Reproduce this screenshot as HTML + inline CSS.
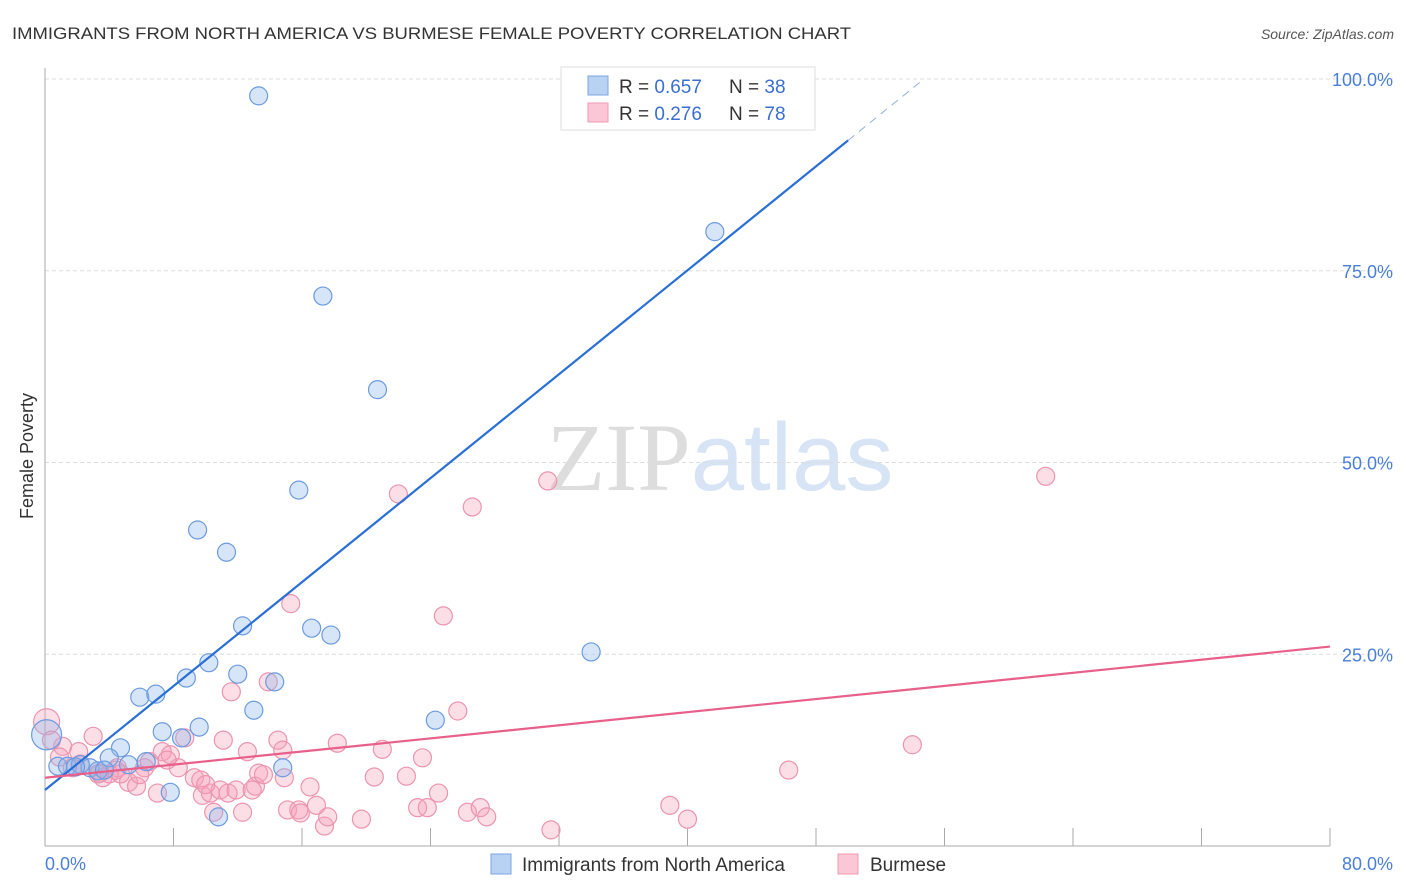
<!DOCTYPE html>
<html><head><meta charset="utf-8"><style>
body{margin:0;background:#fff;font-family:"Liberation Sans",sans-serif}
</style></head><body>
<svg id="chart" width="1406" height="892" xmlns="http://www.w3.org/2000/svg" style="display:block">
<text x="12" y="39" font-size="17" fill="#333" textLength="839" lengthAdjust="spacingAndGlyphs">IMMIGRANTS FROM NORTH AMERICA VS BURMESE FEMALE POVERTY CORRELATION CHART</text>
<text x="1394" y="39" font-size="14" fill="#555" text-anchor="end" font-style="italic">Source: ZipAtlas.com</text>
<text x="720" y="490" font-size="96" text-anchor="middle"><tspan fill="#ddd" font-family="Liberation Serif">ZIP</tspan><tspan fill="#d6e4f5">atlas</tspan></text>
<text transform="translate(33,456) rotate(-90)" font-size="18" fill="#333" text-anchor="middle">Female Poverty</text>
<g id="grid"></g><g id="pts"></g><g id="lines"></g>
<g>
<rect x="561" y="67" width="254" height="63" fill="#fff" stroke="#ddd"/>
<rect x="588" y="76" width="20" height="19" fill="#b8d2f4" stroke="#7aa6e0"/>
<rect x="588" y="103" width="20" height="19" fill="#fbc6d5" stroke="#f09ab4"/>
<text x="619" y="93" font-size="19" fill="#333">R = <tspan fill="#3a6fd0">0.657</tspan></text>
<text x="729" y="93" font-size="19" fill="#333">N = <tspan fill="#3a6fd0">38</tspan></text>
<text x="619" y="120" font-size="19" fill="#333">R = <tspan fill="#3a6fd0">0.276</tspan></text>
<text x="729" y="120" font-size="19" fill="#333">N = <tspan fill="#3a6fd0">78</tspan></text>
</g>
<g>
<rect x="491" y="854" width="20" height="20" fill="#b8d2f4" stroke="#7aa6e0"/>
<text x="522" y="871" font-size="19" fill="#333">Immigrants from North America</text>
<rect x="838" y="854" width="20" height="20" fill="#fbc6d5" stroke="#f09ab4"/>
<text x="870" y="871" font-size="19" fill="#333">Burmese</text>
</g>
</svg>
<script>
const yTicks=[100,75,50,25];
const yTickLabels=["100.0%","75.0%","50.0%","25.0%"];
const xTicks=[0,8,16,24,32,40,48,56,64,72,80];
const blueX=[13.3,41.7,17.3,20.7,15.8,9.5,11.3,12.3,16.6,17.8,34.0,10.2,8.8,12.0,14.3,5.9,6.9,13.0,24.3,9.6,7.3,8.5,4.7,0.8,1.4,2.2,2.8,3.3,4.0,5.2,6.3,14.8,7.8,10.8,33.3,0.1,1.9,3.7];
const blueY=[97.8,80.1,71.7,59.5,46.4,41.2,38.3,28.7,28.4,27.5,25.3,23.9,21.9,22.4,21.4,19.4,19.8,17.7,16.4,15.5,14.9,14.1,12.8,10.4,10.4,10.6,10.2,9.8,11.5,10.6,11.0,10.2,7.0,3.8,99.9,14.5,10.3,9.9];
const pinkX=[0.1,1.1,0.4,3.0,0.9,1.7,2.2,3.3,3.6,4.4,4.5,5.2,5.7,6.2,6.5,7.0,7.3,7.8,8.3,8.7,9.3,9.7,9.8,10.3,10.5,10.9,11.1,11.4,11.6,11.9,12.3,12.6,13.1,13.3,13.6,13.9,14.5,14.9,15.1,15.8,15.9,15.3,16.5,16.9,17.4,17.6,18.2,19.7,20.5,21.0,22.0,22.5,23.2,23.5,23.8,24.5,24.8,25.7,26.3,26.6,27.1,27.5,31.3,31.5,38.9,40.0,46.3,54.0,62.3,2.1,4.0,5.9,7.6,10.0,12.9,14.8,4.7,3.4];
const pinkY=[16.2,13.0,13.8,14.3,11.6,10.2,10.7,9.4,8.9,9.9,10.2,8.3,7.8,10.2,11.0,6.9,12.3,11.9,10.2,14.1,8.9,8.6,6.6,6.9,4.4,7.3,13.8,6.9,20.1,7.3,4.4,12.3,7.8,9.5,9.3,21.4,13.8,8.9,4.7,4.7,4.3,31.6,7.7,5.3,2.6,3.8,13.4,3.5,9.0,12.6,45.9,9.1,5.0,11.5,5.0,6.9,30.0,17.6,4.4,44.2,5.0,3.8,47.6,2.1,5.3,3.5,9.9,13.2,48.2,12.3,9.4,9.3,11.2,8.0,7.3,12.5,9.4,9.5];
const blueFit=[7.3,92.0];   // y at x=0 and x=50
const pinkFit=[8.9,26.0];   // y at x=0 and x=80
const NS="http://www.w3.org/2000/svg";
const sx=v=>45+v*(1285/80), sy=v=>846-v*7.67;
function mk(t,a,p){const e=document.createElementNS(NS,t);for(const k in a)e.setAttribute(k,a[k]);p.appendChild(e);return e;}
const grid=document.getElementById('grid');
yTicks.forEach((v,i)=>{
 const l=mk('line',{x1:45,x2:1394,y1:sy(v),y2:sy(v),stroke:'#ddd','stroke-dasharray':'4,3'},grid);
 
 
 const t=mk('text',{x:1393,y:sy(v)+7,'font-size':18,fill:'#4a7fd8','text-anchor':'end'},grid);t.textContent=yTickLabels[i];
 
 
});
const ax=mk('line',{x1:45,x2:45,y1:68,y2:846,stroke:'#aaa'},grid);


const bx=mk('line',{x1:45,x2:1330,y1:846,y2:846,stroke:'#aaa'},grid);


xTicks.forEach(v=>{const t=mk('line',{x1:sx(v),x2:sx(v),y1:828,y2:846,stroke:'#aaa'},grid);
 
 });
const xl=mk('text',{x:45,y:870,'font-size':18,fill:'#4a7fd8'},grid);xl.textContent="0.0%";


const xr=mk('text',{x:1393,y:870,'font-size':18,fill:'#4a7fd8','text-anchor':'end'},grid);xr.textContent="80.0%";


const pts=document.getElementById('pts');
pinkX.forEach((x,i)=>{const c=mk('circle',{cx:sx(x),cy:sy(pinkY[i]),r:i==0?13:9,fill:'rgba(246,160,186,0.35)',stroke:'#ec94b0','stroke-width':1.2},pts);
 
 });
blueX.forEach((x,i)=>{const c=mk('circle',{cx:sx(x),cy:sy(blueY[i]),r:i==35?15:9,fill:'rgba(140,180,235,0.35)',stroke:'#6b9be0','stroke-width':1.2},pts);
 
 });
const lines=document.getElementById('lines');
const slope=(blueFit[1]-blueFit[0])/50;
const bl=mk('line',{x1:sx(0),y1:sy(blueFit[0]),x2:sx(50),y2:sy(blueFit[1]),stroke:'#2a6fd6','stroke-width':2.2},lines);


const xe=(100-blueFit[0])/slope;
const bd=mk('line',{x1:sx(50),y1:sy(blueFit[1]),x2:sx(xe),y2:sy(100),stroke:'#8fb0e0','stroke-width':1,'stroke-dasharray':'8,6'},lines);


const pl=mk('line',{x1:sx(0),y1:sy(pinkFit[0]),x2:sx(80),y2:sy(pinkFit[1]),stroke:'#e8608a','stroke-width':2.2},lines);


</script>
</body></html>
